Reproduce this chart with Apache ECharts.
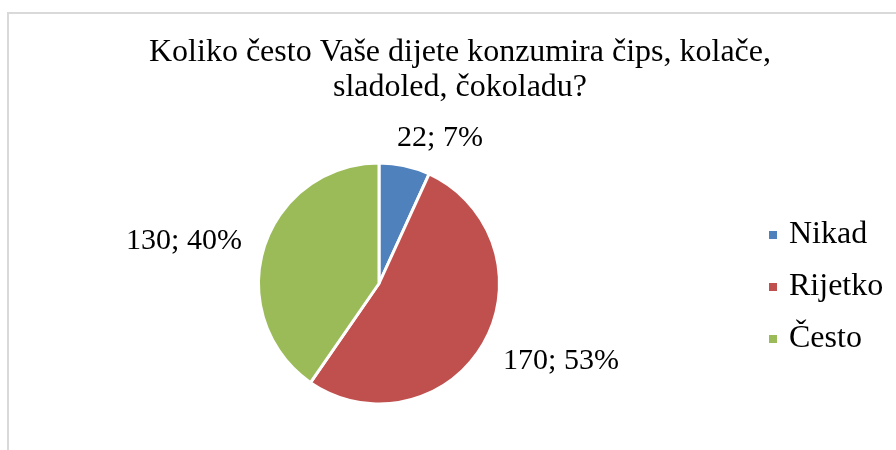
<!DOCTYPE html>
<html lang="hr">
<head>
    <meta charset="UTF-8">
    <title>Konzumacija</title>
    <style>
        html, body { margin: 0; padding: 0; background: #fff; }
        #main { width: 896px; height: 450px; }
    </style>
</head>
<body>
<div id="main"></div>
<script src="https://cdn.jsdelivr.net/npm/echarts@6/dist/echarts.min.js"></script>
<script>
    const categories = ['Nikad', 'Rijetko', 'Često'];
    const values = [22, 170, 130];
    const colors = ['#4f81bd', '#c0504d', '#9bbb59'];

    // where each data label sits (label centre, px)
    const labelSpots = [[440, 138], [561, 361], [184, 241]];

    const font = '"Liberation Serif", "Times New Roman", serif';
    const total = values.reduce((a, b) => a + b, 0);

    let myChart = echarts.init(document.getElementById('main'));
    myChart.setOption({
        animation: false,
        backgroundColor: '#fff',
        graphic: [{
            type: 'rect',
            shape: {x: 8, y: 13, width: 1000, height: 1000},
            style: {fill: 'none', stroke: '#d9d9d9', lineWidth: 2},
            silent: true
        }],
        title: {
            text: 'Koliko često Vaše dijete konzumira čips, kolače,\nsladoled, čokoladu?',
            left: 455,
            top: 30,
            textAlign: 'center',
            textStyle: {fontFamily: font, fontSize: 32, fontWeight: 'normal', color: '#000', lineHeight: 35}
        },
        legend: {
            orient: 'vertical',
            left: 762,
            top: 214,
            itemWidth: 10,
            itemHeight: 10,
            itemGap: 20,
            icon: 'rect',
            textStyle: {fontFamily: font, fontSize: 32, color: '#000', padding: [0, 0, 0, 6]},
            data: categories
        },
        series: [{
            type: 'pie',
            center: [379, 283.5],
            radius: 120.5,
            startAngle: 90,
            clockwise: true,
            itemStyle: {borderColor: '#fff', borderWidth: 3},
            label: {
                show: true,
                position: 'outside',
                fontFamily: font,
                fontSize: 30,
                color: '#000',
                formatter: p => p.value + '; ' + Math.round(p.value / total * 100) + '%'
            },
            labelLine: {show: false},
            labelLayout: p => ({
                x: labelSpots[p.dataIndex][0],
                y: labelSpots[p.dataIndex][1],
                align: 'center',
                verticalAlign: 'middle'
            }),
            data: categories.map((name, i) => ({name: name, value: values[i], itemStyle: {color: colors[i]}}))
        }]
    });
</script>
</body>
</html>
